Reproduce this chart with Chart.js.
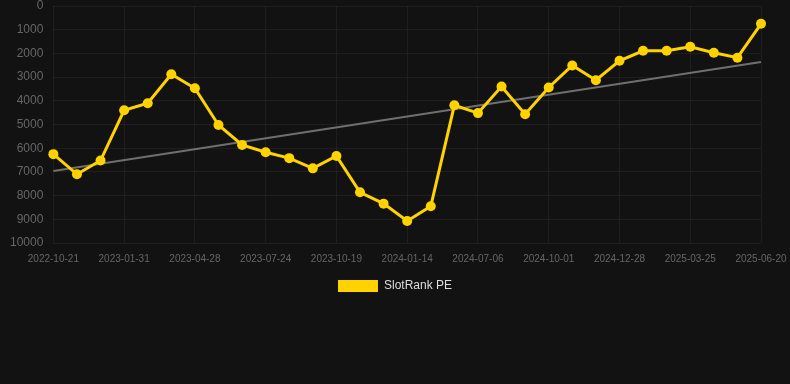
<!DOCTYPE html>
<html>
<head>
<meta charset="utf-8">
<script src="https://cdn.jsdelivr.net/npm/chart.js@4/dist/chart.umd.min.js"></script>
<style>
  html, body { margin: 0; padding: 0; background: #121212; }
  #wrap { width: 790px; height: 302px; position: relative; }
</style>
</head>
<body>
<div id="wrap"><canvas id="rankChart"></canvas></div>
<script>
const dates = [
  "2022-10-21", "2022-11-25", "2022-12-28", "2023-01-31", "2023-02-28", "2023-03-29",
  "2023-04-28", "2023-05-27", "2023-06-25", "2023-07-24", "2023-08-22", "2023-09-20",
  "2023-10-19", "2023-11-17", "2023-12-16", "2024-01-14", "2024-03-12", "2024-05-09",
  "2024-07-06", "2024-08-04", "2024-09-02", "2024-10-01", "2024-10-30", "2024-11-28",
  "2024-12-28", "2025-01-26", "2025-02-24", "2025-03-25", "2025-04-23", "2025-05-22",
  "2025-06-20"
];
const rankPE = [
  6250, 7100, 6520, 4400, 4100, 2880, 3470, 5020, 5860, 6170, 6420, 6850,
  6330, 7860, 8340, 9070, 8450, 4190, 4520, 3400, 4570, 3440, 2510, 3130,
  2310, 1890, 1890, 1720, 1970, 2180, 750
];
// trend line ends
const trendStart = 6960;
const trendEnd = 2360;
const yTicks = [0, 1000, 2000, 3000, 4000, 5000, 6000, 7000, 8000, 9000, 10000];

const trend = dates.map((d, i) => i === 0 ? trendStart : (i === dates.length - 1 ? trendEnd : null));

new Chart(document.getElementById("rankChart"), {
  type: "line",
  data: {
    labels: dates,
    datasets: [
      {
        label: "SlotRank PE",
        data: rankPE,
        borderColor: "#FFD200",
        backgroundColor: "#FFD200",
        borderWidth: 3,
        pointRadius: 5,
        pointHoverRadius: 6,
        pointBackgroundColor: "#FFD200",
        pointBorderWidth: 0,
        tension: 0
      },
      {
        label: "trend",
        data: trend,
        spanGaps: true,
        borderColor: "#6f6f6f",
        borderWidth: 2,
        pointRadius: 0,
        fill: false
      }
    ]
  },
  options: {
    responsive: true,
    maintainAspectRatio: false,
    animation: false,
    layout: { padding: { top: 6, right: 0, left: 0, bottom: 0 } },
    plugins: {
      tooltip: { enabled: false },
      legend: {
        position: "bottom",
        labels: {
          color: "#dddddd",
          font: { family: "Liberation Sans, Arial", size: 12 },
          boxWidth: 40,
          boxHeight: 12,
          padding: 5,
          generateLabels: chart => [{
            text: "SlotRank PE",
            fillStyle: "#FFD200",
            strokeStyle: "#FFD200",
            lineWidth: 0,
            fontColor: "#dddddd",
            datasetIndex: 0,
            hidden: false
          }]
        }
      }
    },
    scales: {
      x: {
        grid: { color: "rgba(255,255,255,0.05)", drawTicks: false },
        border: { display: false },
        afterFit: axis => { axis.paddingLeft = 0; axis.paddingRight = 29; },
        ticks: {
          color: "#666666",
          font: { family: "Liberation Sans, Arial", size: 10 },
          autoSkip: false,
          maxRotation: 0,
          padding: 10,
          callback: function (val, i) { return i % 3 === 0 ? dates[i] : null; }
        }
      },
      y: {
        reverse: true,
        min: 0,
        max: 10000,
        afterBuildTicks: axis => { axis.ticks = yTicks.map(v => ({ value: v })); },
        afterFit: axis => { axis.paddingTop = 0; axis.paddingBottom = 0; },
        grid: { color: "rgba(255,255,255,0.05)", drawTicks: false },
        border: { display: false },
        ticks: {
          color: "#666666",
          font: { family: "Liberation Sans, Arial", size: 12 },
          padding: 10,
          callback: v => String(v)
        }
      }
    }
  }
});
</script>
</body>
</html>
